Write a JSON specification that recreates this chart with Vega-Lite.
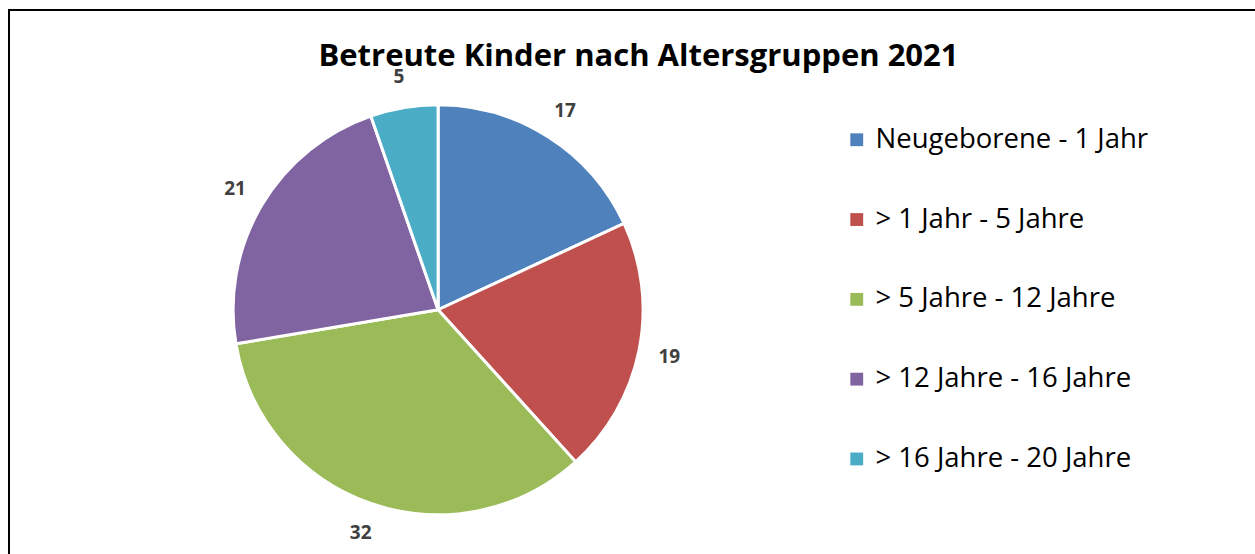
{
  "$schema": "https://vega.github.io/schema/vega-lite/v6.json",
  "autosize": {"type": "fit", "contains": "padding"},
  "width": 1255,
  "height": 554,
  "padding": {"left": 9, "top": 10, "right": -5, "bottom": -5},
  "background": "white",
  "view": {"stroke": "black", "strokeWidth": 2, "fill": "white"},
  "config": {
    "view": {"stroke": "black", "strokeWidth": 2},
    "font": "Open Sans"
  },
  "title": {
    "text": "Betreute Kinder nach Altersgruppen 2021",
    "font": "Open Sans",
    "fontSize": 31,
    "fontWeight": "bold",
    "color": "black",
    "anchor": "middle",
    "offset": -63,
    "dx": 4
  },
  "data": {
    "values": [
      {"gruppe": "Neugeborene - 1 Jahr", "anzahl": 17, "ord": 1},
      {"gruppe": "> 1 Jahr - 5 Jahre", "anzahl": 19, "ord": 2},
      {"gruppe": "> 5 Jahre - 12 Jahre", "anzahl": 32, "ord": 3},
      {"gruppe": "> 12 Jahre - 16 Jahre", "anzahl": 21, "ord": 4},
      {"gruppe": "> 16 Jahre - 20 Jahre", "anzahl": 5, "ord": 5}
    ]
  },
  "encoding": {
    "theta": {"field": "anzahl", "type": "quantitative", "stack": true},
    "order": {"field": "ord", "type": "quantitative"},
    "color": {
      "field": "gruppe",
      "type": "nominal",
      "sort": {"field": "ord"},
      "scale": {
        "domain": ["Neugeborene - 1 Jahr", "> 1 Jahr - 5 Jahre", "> 5 Jahre - 12 Jahre", "> 12 Jahre - 16 Jahre", "> 16 Jahre - 20 Jahre"],
        "range": ["#4F81BD", "#C0504D", "#9BBB59", "#8064A2", "#4BACC6"]
      },
      "legend": {
        "title": null,
        "orient": "none",
        "legendX": 834,
        "legendY": 116,
        "symbolType": "square",
        "symbolSize": 165,
        "symbolStrokeWidth": 0,
        "symbolOpacity": 1,
        "labelFont": "Open Sans",
        "labelFontSize": 27.5,
        "labelColor": "black",
        "labelLimit": 400,
        "labelOffset": 5,
        "rowPadding": 50.8
      }
    }
  },
  "layer": [
    {
      "mark": {
        "type": "arc",
        "outerRadius": 205,
        "stroke": "white",
        "strokeWidth": 3,
        "x": {"expr": "width*0.343"},
        "y": {"expr": "height*0.546"}
      }
    },
    {
      "mark": {
        "type": "text",
        "radius": 236,
        "font": "Open Sans",
        "fontSize": 19,
        "fontWeight": "bold",
        "fill": "#404040",
        "x": {"expr": "width*0.343"},
        "y": {"expr": "height*0.546"}
      },
      "encoding": {
        "text": {"field": "anzahl", "type": "quantitative"},
        "color": {"value": "#404040"}
      }
    }
  ]
}
